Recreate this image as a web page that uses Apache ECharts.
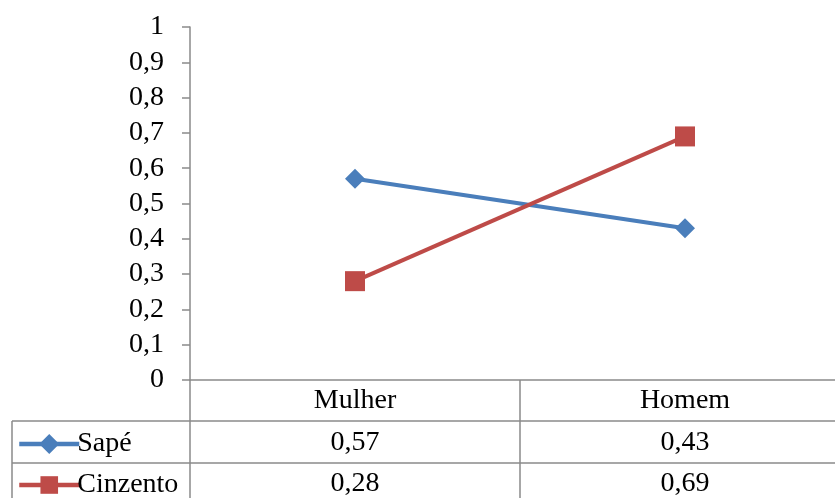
<!DOCTYPE html>
<html>
<head>
<meta charset="utf-8">
<script src="https://cdn.jsdelivr.net/npm/echarts@6/dist/echarts.min.js"></script>
<style>html,body{margin:0;padding:0;background:#fff;}#c{width:835px;height:498px;}</style>
</head>
<body>
<div id="c"></div>
<script>
const categories = ['Mulher', 'Homem'];
const seriesNames = ['Sapé', 'Cinzento'];
const sape = [0.57, 0.43];
const cinzento = [0.28, 0.69];
const yTicks = [0, 0.1, 0.2, 0.3, 0.4, 0.5, 0.6, 0.7, 0.8, 0.9, 1];

const FONT = 'Liberation Serif';
const FS = 28;
const GRAY = '#8a8a8a';
const fmt = v => String(v).replace('.', ',');

const legendBase = {
  orient: 'horizontal', left: 12, itemWidth: 60, itemHeight: 22, itemGap: 0,
  lineStyle: {width: 4.5},
  textStyle: {fontFamily: FONT, fontSize: FS, color: '#000', padding: [0, 0, 0, -7]}
};

const chart = echarts.init(document.getElementById('c'), null, {renderer: 'canvas'});
chart.setOption({
  animation: false,
  backgroundColor: '#fff',
  textStyle: {fontFamily: FONT},
  grid: {left: 190, top: 27, width: 660, bottom: 118, containLabel: false, outerBoundsMode: 'none'},
  legend: [
    Object.assign({}, legendBase, {top: 425, itemHeight: 25, data: [seriesNames[0]]}),
    Object.assign({}, legendBase, {top: 466, data: [seriesNames[1]]})
  ],
  xAxis: {
    type: 'category', data: categories, boundaryGap: true,
    axisLine: {lineStyle: {color: GRAY, width: 1.5}},
    axisTick: {show: true, length: 120, lineStyle: {color: GRAY, width: 1.5}, alignWithLabel: false},
    axisLabel: {
      margin: 0, fontFamily: FONT, fontSize: FS, color: '#000', lineHeight: 41.5,
      formatter: (v, i) => [v, fmt(sape[i]), fmt(cinzento[i])].join('\n')
    },
    splitLine: {show: false}
  },
  yAxis: {
    type: 'value', min: 0, max: 1, interval: 0.1,
    axisLine: {show: true, lineStyle: {color: GRAY, width: 1.5}},
    axisTick: {show: true, length: 8, lineStyle: {color: GRAY, width: 1.5}},
    axisLabel: {margin: 26, fontFamily: FONT, fontSize: FS, color: '#000', formatter: v => fmt(Math.round(v * 10) / 10)},
    splitLine: {show: false}
  },
  graphic: [
    {type: 'line', shape: {x1: 12, y1: 421, x2: 835, y2: 421}, style: {stroke: GRAY, lineWidth: 1.5}},
    {type: 'line', shape: {x1: 12, y1: 463, x2: 835, y2: 463}, style: {stroke: GRAY, lineWidth: 1.5}},
    {type: 'line', shape: {x1: 12, y1: 421, x2: 12, y2: 498}, style: {stroke: GRAY, lineWidth: 1.5}}
  ],
  series: [
    {name: seriesNames[0], type: 'line', data: sape, symbol: 'diamond', symbolSize: 20,
     itemStyle: {color: '#4A7EBB'}, lineStyle: {color: '#4A7EBB', width: 4}},
    {name: seriesNames[1], type: 'line', data: cinzento, symbol: 'rect', symbolSize: 20,
     itemStyle: {color: '#BE4B48'}, lineStyle: {color: '#BE4B48', width: 4}}
  ]
});
</script>
</body>
</html>
